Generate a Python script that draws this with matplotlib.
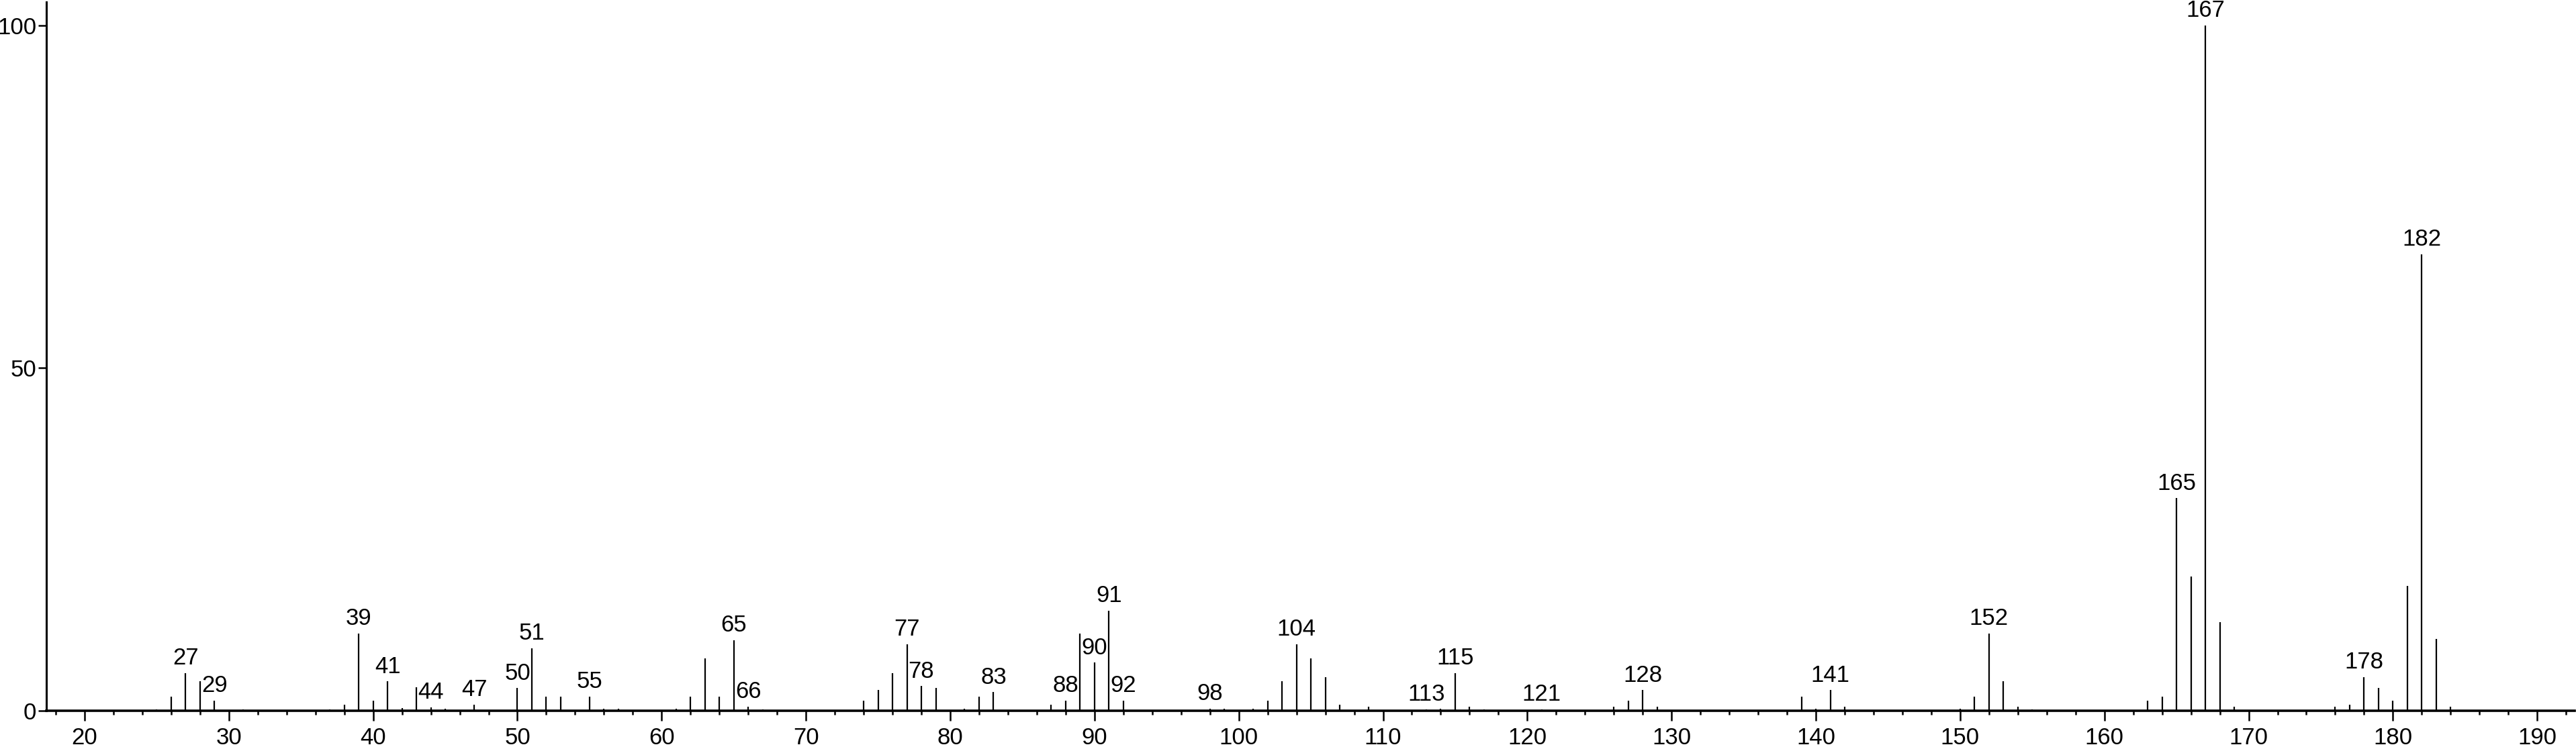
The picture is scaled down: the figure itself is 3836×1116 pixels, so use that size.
import matplotlib
matplotlib.use('Agg')
import matplotlib.pyplot as plt
from matplotlib.ticker import MultipleLocator

plt.rcParams['font.family'] = ['Liberation Sans Narrow', 'Liberation Sans', 'DejaVu Sans']

# m/z values and relative intensities
mz = [25, 26, 27, 28, 29, 31, 37, 38, 39, 40, 41, 42, 43, 44, 45, 47,
      50, 51, 52, 53, 55, 56, 57, 61, 62, 63, 64, 65, 66, 67,
      74, 75, 76, 77, 78, 79, 81, 82, 83, 87, 88, 89, 90, 91, 92, 98, 99,
      101, 102, 103, 104, 105, 106, 107, 109, 113, 114, 115, 116, 117, 121,
      126, 127, 128, 129, 139, 140, 141, 142, 150, 151, 152, 153, 154, 155,
      163, 164, 165, 166, 167, 168, 169, 176, 177, 178, 179, 180, 181, 182,
      183, 184]
intensity = [0.2, 2.1, 5.5, 4.3, 1.5, 0.2, 0.2, 0.9, 11.3, 1.5, 4.3, 0.4, 3.4, 0.5, 0.3, 0.9,
             3.3, 9.1, 2.1, 2.1, 2.1, 0.3, 0.3, 0.3, 2.1, 7.6, 2.1, 10.3, 0.6, 0.2,
             1.5, 3.0, 5.5, 9.7, 3.6, 3.3, 0.3, 2.1, 2.7, 0.9, 1.5, 11.3, 7.0, 14.6, 1.5, 0.3, 0.3,
             0.3, 1.5, 4.3, 9.7, 7.6, 4.9, 0.9, 0.6, 0.2, 0.3, 5.5, 0.6, 0.2, 0.2,
             0.6, 1.5, 3.0, 0.6, 2.1, 0.3, 3.0, 0.6, 0.3, 2.1, 11.3, 4.3, 0.6, 0.2,
             1.5, 2.1, 31.0, 19.6, 100.0, 12.9, 0.6, 0.6, 0.9, 4.9, 3.3, 1.5, 18.2, 66.6,
             10.5, 0.6]

# peaks that carry a label
labelled = [27, 29, 39, 41, 44, 47, 50, 51, 55, 65, 66, 77, 78, 83, 88, 90, 91,
            92, 98, 104, 113, 115, 121, 128, 141, 152, 165, 167, 178, 182]

fig = plt.figure(figsize=(38.36, 11.16), dpi=100)
ax = fig.add_axes([0.018, 0.0511, 0.9815, 0.9462])

ax.vlines(mz, 0, intensity, color='k', linewidth=1.6)

lookup = dict(zip(mz, intensity))
for m in labelled:
    ax.annotate(str(m), xy=(m, lookup[m]), xytext=(0, 4), textcoords='offset points',
                ha='center', va='bottom', fontsize=25, clip_on=False)

ax.set_xlim(17.35, 192.6)
ax.set_ylim(0, 103.4)

ax.spines['top'].set_visible(False)
ax.spines['right'].set_visible(False)
ax.spines['left'].set_linewidth(2.2)
ax.spines['bottom'].set_linewidth(2.6)

ax.xaxis.set_major_locator(MultipleLocator(10))
ax.xaxis.set_minor_locator(MultipleLocator(2))
ax.set_yticks([0, 50, 100])

ax.tick_params(axis='x', which='major', direction='out', length=10.5, width=1.8, pad=7, labelsize=25)
ax.tick_params(axis='x', which='minor', direction='out', length=4.5, width=1.8)
ax.tick_params(axis='y', which='major', direction='out', length=9, width=1.8, pad=1.5, labelsize=25)

fig.savefig('out.png', dpi=100, facecolor='white')
